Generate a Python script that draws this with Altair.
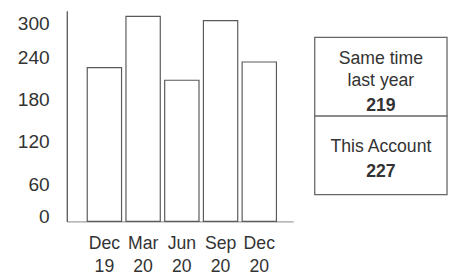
import altair as alt
import pandas as pd

# ---- data ----
periods = ["Dec 19", "Mar 20", "Jun 20", "Sep 20", "Dec 20"]
values = [219, 292, 201, 286, 227]
y_ticks = [0, 60, 120, 180, 240, 300]
box_rows = ["last", "this"]
box_lines = ["Same time", "last year", "219", "This Account", "227"]
box_line_rows = ["last", "last", "last", "this", "this"]
box_line_bold = [False, False, True, False, True]

FONT = "Liberation Sans, Arial, sans-serif"
TEXT = "#333333"
# baseline offsets of each text line from its cell centre (style, not data)
LINE_DY = [-13.5, 9.5, 35, -3.5, 22]

bars_df = pd.DataFrame({"period": periods, "value": values})
rows_df = pd.DataFrame({"row": box_rows})
lines_df = pd.DataFrame({
    "idx": list(range(len(box_lines))),
    "row": box_line_rows,
    "text": box_lines,
    "bold": box_line_bold,
})

bars = alt.Chart(bars_df).mark_bar(fill="white", stroke="#5a5a5a", strokeWidth=1.2).encode(
    x=alt.X(
        "period:N", sort=periods, title=None,
        scale=alt.Scale(paddingInner=0.114, paddingOuter=0.48, align=0.55),
        axis=alt.Axis(
            labelAngle=0, ticks=False, grid=False, domainColor="#a0a0a0", domainWidth=1.2,
            labelExpr="split(datum.label, ' ')", labelFont=FONT, labelFontSize=18,
            labelColor=TEXT, labelPadding=14, labelLineHeight=23, labelBaseline="top",
        ),
    ),
    y=alt.Y(
        "value:Q", title=None,
        scale=alt.Scale(domain=[0, 300], nice=False),
        axis=alt.Axis(
            values=y_ticks, ticks=False, grid=False, domainColor="#555555", domainWidth=1.3,
            labelFont=FONT, labelFontSize=19.5, labelColor=TEXT, labelPadding=18,
            labelOffset=alt.expr("datum.value == 300 ? 13 : datum.value == 0 ? -5 : 5"),
        ),
    ),
).properties(width=231, height=215)

row_scale = alt.Scale(domain=box_rows, paddingInner=0, paddingOuter=0.34)
ry = alt.Y("row:N", sort=box_rows, scale=row_scale, axis=None, title=None)

box = alt.Chart(rows_df).mark_rect(fill="white", stroke="#666666", strokeWidth=1.3).encode(y=ry)

text_layers = []
for i, bold in enumerate(box_line_bold):
    text_layers.append(
        alt.Chart(lines_df)
        .transform_filter(f"datum.idx == {i}")
        .mark_text(
            font=FONT, fontSize=18, color=TEXT, baseline="alphabetic", dy=LINE_DY[i],
            fontWeight="bold" if bold else "normal",
        )
        .encode(y=ry, text="text:N")
    )

right = alt.layer(box, *text_layers).properties(width=135, height=215)

chart = alt.hconcat(bars, right, spacing=21).properties(
    padding={"left": 9, "top": 0, "right": 0, "bottom": 0},
    background="white",
).configure_view(stroke=None)

chart.save("out.html", embed_options={"renderer": "svg", "actions": False})
